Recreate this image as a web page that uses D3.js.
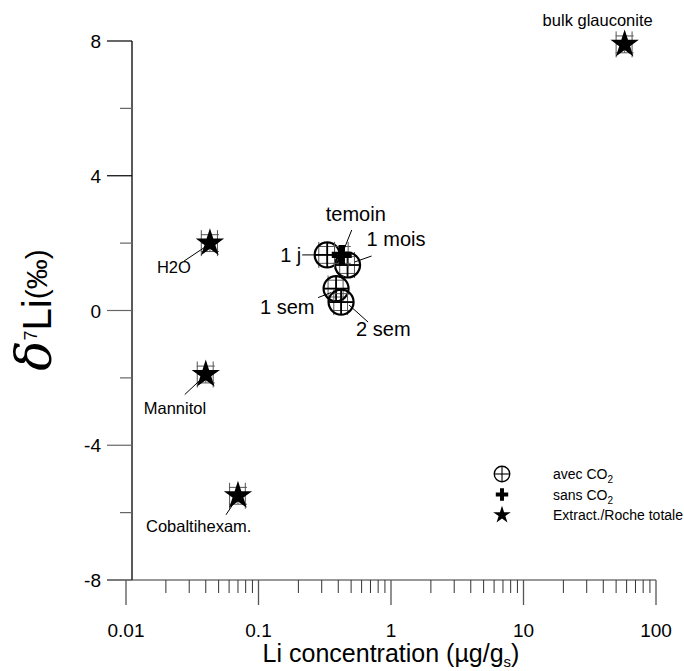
<!DOCTYPE html>
<html lang="fr">
<head>
<meta charset="utf-8">
<title>delta7Li vs Li concentration</title>
<script src="https://d3js.org/d3.v7.min.js"></script>
<style>
  body { margin: 0; background: #fff; }
  text { font-family: "Liberation Sans", Arial, sans-serif; fill: #000; }
</style>
</head>
<body>
<script>
// data
const names  = ["bulk glauconite", "H2O", "Mannitol", "Cobaltihexam.", "temoin", "1 j", "1 mois", "1 sem", "2 sem"];
const kinds  = ["star", "star", "star", "star", "plus", "circle", "circle", "circle", "circle"];
const liConc = [58, 0.043, 0.040, 0.070, 0.425, 0.33, 0.47, 0.385, 0.42];
const d7Li   = [7.9, 2.0, -1.9, -5.5, 1.65, 1.65, 1.35, 0.65, 0.25];
const errConc = [8, 0.006, 0.0055, 0.0095, 0.05, 0.045, 0.06, 0.05, 0.05];
const errD7   = [0.25, 0.25, 0.25, 0.25, 0.25, 0.25, 0.25, 0.25, 0.25];

// label offsets from the point (pixels) and leader ends
const labelDx = [-27, -53, -62, -92, -16, -47, 19, -76, 15];
const labelDy = [-18, 30, 39, 36, -34, 7, -19, 25, 34];
const leader  = [null, [[-26,18],[-5,4]], [[-21,20],[-5,5]], [[-12,19],[-2,4]], [[10,-25],[2,-5]],
                 [[-25,0],[-9,0]], [[24,-9],[7,-3]], [[-18,9],[-5,4]], [[8,3],[27,20]]];

const xTicks = [0.01, 0.1, 1, 10, 100];
const yTicks = [-8, -4, 0, 4, 8];

const legendLabels = [["avec CO", "2"], ["sans CO", "2"], ["Extract./Roche totale", ""]];
const legendKinds = ["circle", "plus", "star"];

const W = 684, H = 671;
const svg = d3.select("body").append("svg").attr("width", W).attr("height", H);

const x = d3.scaleLog().domain([0.01, 100]).range([126, 656]);
const y = d3.scaleLinear().domain([-8, 8]).range([580, 41]);

// x axis (log, ticks downward)
const xAxis = svg.append("g").attr("transform", "translate(0,580)");
xAxis.append("line").attr("x1", 107).attr("x2", 656).attr("stroke", "#777").attr("stroke-width", 1.3);
const minorX = [];
for (let e = -2; e < 2; e++) for (let m = 2; m <= 9; m++) minorX.push(m * Math.pow(10, e));
xAxis.selectAll(".mx").data(minorX).enter().append("line")
  .attr("x1", d => x(d)).attr("x2", d => x(d)).attr("y1", 0).attr("y2", 13)
  .attr("stroke", "#333").attr("stroke-width", 1);
xAxis.selectAll(".Mx").data(xTicks).enter().append("line")
  .attr("x1", d => x(d)).attr("x2", d => x(d)).attr("y1", 0).attr("y2", 25)
  .attr("stroke", "#555").attr("stroke-width", 1.3);
xAxis.selectAll(".lx").data(xTicks).enter().append("text")
  .attr("x", d => x(d)).attr("y", 57).attr("text-anchor", "middle")
  .attr("font-size", 19).text(d => d3.format("~g")(d));

// y axis
const yAxis = svg.append("g");
yAxis.append("line").attr("x1", 132).attr("x2", 132).attr("y1", y(8)).attr("y2", y(-8))
  .attr("stroke", "#000").attr("stroke-width", 1.3);
yAxis.selectAll(".my").data([-6, -2, 2, 6]).enter().append("line")
  .attr("x1", 120).attr("x2", 132).attr("y1", d => y(d)).attr("y2", d => y(d))
  .attr("stroke", "#666").attr("stroke-width", 1.2);
yAxis.selectAll(".My").data(yTicks).enter().append("line")
  .attr("x1", 107).attr("x2", 132).attr("y1", d => y(d)).attr("y2", d => y(d))
  .attr("stroke", d => d === 8 || d === 4 ? "#000" : "#666").attr("stroke-width", 1.2);
yAxis.selectAll(".ly").data(yTicks).enter().append("text")
  .attr("x", 101).attr("y", d => y(d) + 7).attr("text-anchor", "end")
  .attr("font-size", 19).text(d => d);

// axis titles
const xt = svg.append("text").attr("x", 391).attr("y", 662).attr("text-anchor", "middle").attr("font-size", 25);
xt.append("tspan").text("Li concentration (µg/g");
xt.append("tspan").attr("font-size", 15).attr("dy", 5).text("s");
xt.append("tspan").attr("dy", -5).text(")");

const yt = svg.append("text").attr("transform", "translate(51,310) rotate(-90)").attr("text-anchor", "middle");
yt.append("tspan").attr("font-size", 50).attr("font-family", "DejaVu Serif").attr("font-style", "italic").text("δ");
yt.append("tspan").attr("font-size", 18).attr("dy", -14).text("7");
yt.append("tspan").attr("font-size", 40).attr("dy", 14).text("Li");
yt.append("tspan").attr("font-size", 30).attr("dy", -4).text("(‰)");

// marker drawers
const star = d3.symbol().type(d3.symbolStar);
function drawMarker(g, kind, s) {
  if (kind === "star") {
    g.append("path").attr("d", star.size(250 * s * s)()).attr("fill", "#000");
  } else if (kind === "plus") {
    const a = 10 * s, t = 3.2 * s;
    g.append("path").attr("d", `M${-t},${-a}H${t}V${-t}H${a}V${t}H${t}V${a}H${-t}V${t}H${-a}V${-t}H${-t}Z`).attr("fill", "#000");
  } else {
    const r = 12.5 * s;
    g.append("circle").attr("r", r).attr("fill", "none").attr("stroke", "#000").attr("stroke-width", 2.2 * s);
    g.append("line").attr("x1", -r).attr("x2", r).attr("stroke", "#000").attr("stroke-width", 1.8 * s);
    g.append("line").attr("y1", -r).attr("y2", r).attr("stroke", "#000").attr("stroke-width", 1.8 * s);
  }
}

const pts = names.map((n, i) => ({ name: n, kind: kinds[i], x: liConc[i], y: d7Li[i], ex: errConc[i], ey: errD7[i], i }));
// draw circles first, then plus, then stars so the plus sits on top
const order = { circle: 0, plus: 1, star: 2 };
pts.sort((a, b) => order[a.kind] - order[b.kind]);

const pg = svg.append("g");
pts.forEach(p => {
  const cx = x(p.x), cy = y(p.y);
  const eg = pg.append("g").attr("stroke", "#555").attr("stroke-width", 1);
  const xl = x(p.x - p.ex), xr = x(p.x + p.ex), yt2 = y(p.y + p.ey), yb = y(p.y - p.ey);
  eg.append("line").attr("x1", xl).attr("x2", xr).attr("y1", cy).attr("y2", cy);
  eg.append("line").attr("x1", xl).attr("x2", xl).attr("y1", cy - 13).attr("y2", cy + 13);
  eg.append("line").attr("x1", xr).attr("x2", xr).attr("y1", cy - 13).attr("y2", cy + 13);
  eg.append("line").attr("x1", cx).attr("x2", cx).attr("y1", yt2).attr("y2", yb);
  eg.append("line").attr("x1", cx - 9).attr("x2", cx + 9).attr("y1", yt2).attr("y2", yt2);
  eg.append("line").attr("x1", cx - 9).attr("x2", cx + 9).attr("y1", yb).attr("y2", yb);
  drawMarker(pg.append("g").attr("transform", `translate(${cx},${cy})`), p.kind, 1);
});

// labels and leader lines
const lg = svg.append("g");
pts.forEach(p => {
  const cx = x(p.x), cy = y(p.y), i = p.i;
  const small = p.kind === "star";
  lg.append("text").attr("x", cx + labelDx[i]).attr("y", cy + labelDy[i])
    .attr("font-size", small ? 16.5 : 20).attr("text-anchor", i === 0 ? "middle" : "start")
    .text(p.name);
  if (leader[i]) {
    lg.append("line")
      .attr("x1", cx + leader[i][0][0]).attr("y1", cy + leader[i][0][1])
      .attr("x2", cx + leader[i][1][0]).attr("y2", cy + leader[i][1][1])
      .attr("stroke", "#000").attr("stroke-width", 1);
  }
});

// legend
const leg = svg.append("g").attr("transform", "translate(502,474)");
legendKinds.forEach((k, i) => {
  const row = leg.append("g").attr("transform", `translate(0,${i * 20.5})`);
  drawMarker(row.append("g"), k, 0.62);
  const t = row.append("text").attr("x", 51).attr("y", 5).attr("font-size", 14);
  t.append("tspan").text(legendLabels[i][0]);
  if (legendLabels[i][1]) t.append("tspan").attr("font-size", 10).attr("dy", 4).text(legendLabels[i][1]);
});
</script>
</body>
</html>
